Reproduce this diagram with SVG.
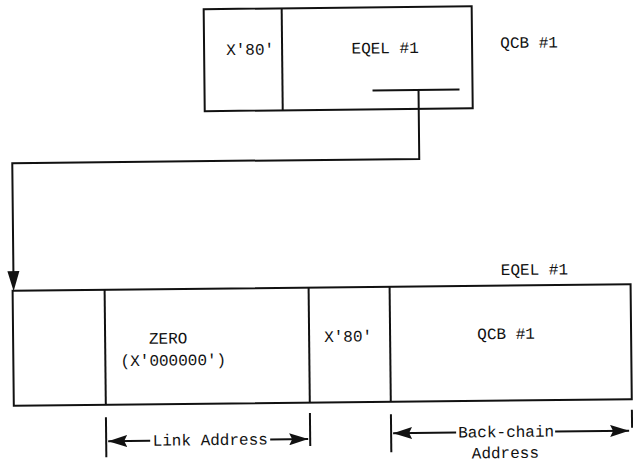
<svg xmlns="http://www.w3.org/2000/svg" width="633" height="463" viewBox="0 0 633 463">
<style>
.ln{stroke:#111;stroke-width:2;fill:none}
.tx{font-family:"Liberation Mono","DejaVu Sans Mono",monospace;font-size:16px;fill:#111;text-anchor:middle}
.ah{fill:#111;stroke:none}
</style>
<defs>
<marker id="arr" markerWidth="20" markerHeight="12" refX="19" refY="6" orient="auto" markerUnits="userSpaceOnUse">
<path d="M0,0 L19,6 L0,12 L3,6 Z" class="ah"/>
</marker>
</defs>
<rect width="633" height="463" fill="#fff"/>
<g transform="rotate(-0.6 316 231)">
<g id="qcb1">
<rect class="ln" x="206" y="8" width="268" height="102"/>
<line class="ln" x1="284" y1="8" x2="284" y2="110"/>
<text class="tx" x="252" y="54">X'80'</text>
<text class="tx" x="387" y="54">EQEL #1</text>
<text class="tx" x="531" y="50">QCB #1</text>
<line class="ln" x1="374" y1="91" x2="461" y2="91"/>
</g>
<g id="eqel1">
<text class="tx" x="534" y="277">EQEL #1</text>
<rect class="ln" x="12" y="287.5" width="618" height="115"/>
<line class="ln" x1="104" y1="287.5" x2="104" y2="402.5"/>
<line class="ln" x1="308" y1="287.5" x2="308" y2="402.5"/>
<line class="ln" x1="389" y1="287.5" x2="389" y2="402.5"/>
<text class="tx" x="167" y="342">ZERO</text>
<text class="tx" x="172" y="364">(X'000000')</text>
<text class="tx" x="347" y="342">X'80'</text>
<text class="tx" x="505" y="341">QCB #1</text>
</g>
<g id="connectors">
<path class="ln" d="M420,91 L420,160 L13,160 L13,270" />
<path class="ah" d="M7,268 L19,268 L13,288 Z"/>
</g>
<g id="dimensions">
<line class="ln" x1="104" y1="415" x2="104" y2="455"/>
<line class="ln" x1="308" y1="413" x2="308" y2="446"/>
<line class="ln" x1="389" y1="415" x2="389" y2="453"/>
<line class="ln" x1="630" y1="413" x2="630" y2="431"/>
<line class="ln" x1="148" y1="439" x2="106" y2="439" marker-end="url(#arr)"/>
<line class="ln" x1="268" y1="439" x2="306" y2="439" marker-end="url(#arr)"/>
<text class="tx" x="208" y="444">Link Address</text>
<line class="ln" x1="454" y1="434" x2="391" y2="434" marker-end="url(#arr)"/>
<line class="ln" x1="553" y1="434" x2="627" y2="434" marker-end="url(#arr)"/>
<text class="tx" x="504" y="439">Back-chain</text>
<text class="tx" x="503" y="460">Address</text>
</g>
</g>
</svg>
